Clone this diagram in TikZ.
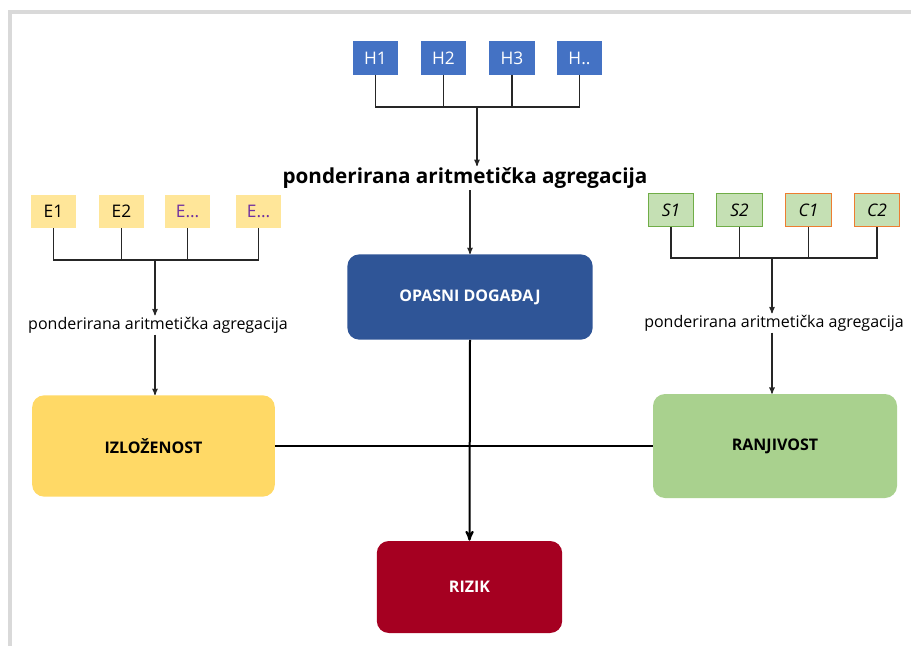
\documentclass[tikz,border=0pt]{standalone}
\usepackage{fontspec}
\setmainfont{Open Sans}
\usetikzlibrary{arrows}
\definecolor{hblue}{HTML}{4472C4}
\definecolor{opblue}{HTML}{2F5597}
\definecolor{eyel}{HTML}{FFE699}
\definecolor{izyel}{HTML}{FFD966}
\definecolor{sgreen}{HTML}{C5E0B4}
\definecolor{sborder}{HTML}{70AD47}
\definecolor{cborder}{HTML}{ED7D31}
\definecolor{rjgreen}{HTML}{A9D18E}
\definecolor{rzred}{HTML}{A50021}
\definecolor{epurple}{HTML}{7030A0}
\tikzset{
  factor/.style = {rectangle, inner sep=0pt, minimum width=34pt,
    minimum height=25pt, font=\fontsize{13}{15}\selectfont},
  hfac/.style = {factor, fill=hblue, text=white},% opasnosti
  efac/.style = {factor, fill=eyel},% izlozenost
  sfac/.style = {factor, fill=sgreen, draw=sborder, thick,
    font=\fontsize{13}{15}\selectfont\itshape},% osjetljivost
  cfac/.style = {sfac, draw=cborder},% kapacitet
  mainbox/.style = {rectangle, rounded corners=9pt, inner sep=0pt,
    font=\fontsize{12}{14}\selectfont\bfseries},
  agg/.style = {inner sep=1pt, font=\fontsize{12}{14}\selectfont},
  link/.style = {draw=black!85, line width=0.8pt},
  thickl/.style = {draw=black, line width=1.5pt}
}
\begin{document}
\begin{tikzpicture}[x=0.75pt,y=-0.75pt,>=stealth']
\useasboundingbox (0,0) rectangle (911,646);
% okvir
\draw[black!15, line width=3pt] (10,646) -- (10,12) -- (911,12);

% opasnosti
\node [hfac] (H1) at (375.5,58) {H1};
\node [hfac] (H2) at (443.5,58) {H2};
\node [hfac] (H3) at (512,58) {H3};
\node [hfac] (H4) at (579.5,58) {H..};
\coordinate (hj) at (477,107);
\node [agg, font=\fontsize{15.5}{17}\selectfont\bfseries] (aggH) at (465,178)
  {ponderirana aritmetička agregacija};

% izlozenost
\node [efac] (E1) at (53.5,211.5) {E1};
\node [efac] (E2) at (121.5,211.5) {E2};
\node [efac, text=epurple] (E3) at (187.5,211.5) {E\dots};
\node [efac, text=epurple] (E4) at (258.5,211.5) {E\dots};
\coordinate (ej) at (155,260);
\node [agg] (aggE) at (158,325) {ponderirana aritmetička agregacija};

% ranjivost
\node [sfac] (S1) at (671,210) {S1};
\node [sfac] (S2) at (739.5,210) {S2};
\node [cfac] (C1) at (808.5,210) {C1};
\node [cfac] (C2) at (877,210) {C2};
\coordinate (sj) at (772,258);
\node [agg] (aggS) at (774,323) {ponderirana aritmetička agregacija};

% glavni okviri
\node [mainbox, fill=opblue, text=white, minimum width=184pt,
  minimum height=64pt] (opasni) at (470,297) {OPASNI DOGAĐAJ};
\node [mainbox, fill=izyel, minimum width=182pt,
  minimum height=76pt] (izlo) at (153.5,446) {IZLOŽENOST};
\node [mainbox, fill=rjgreen, minimum width=183pt,
  minimum height=78pt] (ranj) at (775,446) {RANJIVOST};
\node [mainbox, fill=rzred, text=white, minimum width=139pt,
  minimum height=69pt] (rizik) at (469.5,587) {RIZIK};

% spojevi
\foreach \f in {H1,H2,H3,H4} \draw [link] (\f.south) |- (hj);
\foreach \f in {E1,E2,E3,E4} \draw [link] (\f.south) |- (ej);
\foreach \f in {S1,S2,C1,C2} \draw [link] (\f.south) |- (sj);
\draw [link,->] (hj) -- (hj |- aggH.north);
\draw [link,->] (aggH.south -| opasni) -- (opasni.north);
\draw [link,->] (ej) -- (ej |- aggE.north);
\draw [link,->] (aggE.south -| ej) -- (ej |- izlo.north);
\draw [link,->] (sj) -- (sj |- aggS.north);
\draw [link,->] (aggS.south -| sj) -- (sj |- ranj.north);
\draw [thickl] (izlo.east) -- (ranj.west);
\draw [thickl,->] (opasni.south) -- (rizik.north);
\end{tikzpicture}
\end{document}
